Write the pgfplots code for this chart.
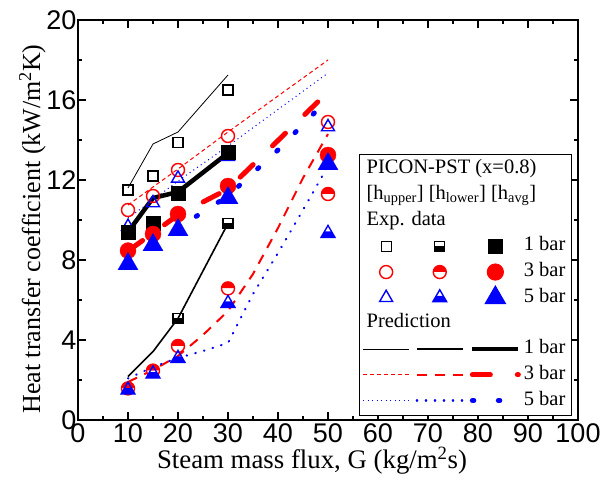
\documentclass[border=0pt]{standalone}
\usepackage{fontspec}
\setmainfont{Liberation Serif}
\newfontfamily\arialfont{Liberation Sans}
\usepackage{pgfplots}
\pgfplotsset{compat=1.18}
\usetikzlibrary{plotmarks}

% triangle with its lower part filled
\pgfdeclareplotmark{halftriangle*}{%
  \pgfpathmoveto{\pgfqpoint{-0.866\pgfplotmarksize}{-0.5\pgfplotmarksize}}%
  \pgfpathlineto{\pgfqpoint{0.866\pgfplotmarksize}{-0.5\pgfplotmarksize}}%
  \pgfpathlineto{\pgfqpoint{0.433\pgfplotmarksize}{0.25\pgfplotmarksize}}%
  \pgfpathlineto{\pgfqpoint{-0.433\pgfplotmarksize}{0.25\pgfplotmarksize}}%
  \pgfpathclose
  \pgfusepathqfill
  \pgfpathmoveto{\pgfqpoint{0pt}{\pgfplotmarksize}}%
  \pgfpathlineto{\pgfqpoint{-0.866\pgfplotmarksize}{-0.5\pgfplotmarksize}}%
  \pgfpathlineto{\pgfqpoint{0.866\pgfplotmarksize}{-0.5\pgfplotmarksize}}%
  \pgfpathclose
  \pgfusepathqstroke
}
% square with its lower half filled
\pgfdeclareplotmark{hsq}{%
  \pgfpathrectangle{\pgfqpoint{-\pgfplotmarksize}{-\pgfplotmarksize}}{\pgfqpoint{2\pgfplotmarksize}{1.1\pgfplotmarksize}}%
  \pgfusepathqfill
  \pgfpathrectangle{\pgfqpoint{-\pgfplotmarksize}{-\pgfplotmarksize}}{\pgfqpoint{2\pgfplotmarksize}{2\pgfplotmarksize}}%
  \pgfusepathqstroke
}

\newcommand\hdr[1]{\makebox[0pt][l]{\hspace*{-46pt}#1}}

\pgfplotsset{
  mk/.style={legend image code/.code={\draw[mark repeat=2,mark phase=2,##1] plot coordinates {(0pt,0pt) (23pt,0pt) (46pt,0pt)};}},
  ln/.style={legend image code/.code={\draw[##1] (0pt,0pt) -- (46pt,0pt);}},
  % predictions
  bU/.style={black, line width=0.8pt},
  bL/.style={black, line width=1.6pt},
  bA/.style={black, line width=4.5pt},
  rU/.style={red, line width=1pt, dash pattern=on 4pt off 3pt},
  rL/.style={red, line width=2pt, dash pattern=on 10pt off 8pt},
  rA/.style={red, line width=5pt, line cap=round, dash pattern=on 18pt off 27pt},
  uU/.style={blue, line width=1pt, dash pattern=on 1pt off 3.5pt},
  uL/.style={blue, line width=2.2pt, line cap=round, dash pattern=on 0.5pt off 8.5pt},
  uA/.style={blue, line width=5pt, line cap=round, dash pattern=on 1.5pt off 24.5pt},
  % experiments
  mbU/.style={only marks, black, mark=square, mark size=5pt, line width=1.3pt},
  mbL/.style={only marks, black, mark=hsq, mark size=5pt, line width=1.3pt},
  mbA/.style={only marks, black, mark=square*, mark size=7pt},
  mrU/.style={only marks, red, mark=o, mark size=6.5pt, line width=1.4pt},
  mrL/.style={only marks, red, mark=halfcircle*, mark size=6.5pt, line width=1.4pt},
  mrA/.style={only marks, red, mark=*, mark size=8pt},
  muU/.style={only marks, blue, mark=triangle, mark size=7.5pt, line width=1.4pt},
  muL/.style={only marks, blue, mark=halftriangle*, mark size=8pt, line width=1.4pt},
  muA/.style={only marks, blue, mark=triangle*, mark size=11.5pt},
}

\begin{document}
\begin{tikzpicture}
\begin{axis}[
    width=500pt, height=400pt, scale only axis,
    xmin=0, xmax=100, ymin=0, ymax=20,
    xtick={0,10,...,100}, ytick={0,4,...,20},
    minor x tick num=1, minor y tick num=1,
    tick align=inside,
    major tick length=8pt, minor tick length=4pt,
    every tick/.style={black, line width=1.2pt},
    axis line style={line width=1.3pt},
    /pgf/number format/assume math mode=true,
    tick label style={font=\arialfont\fontsize{27}{27}\selectfont},
    yticklabel style={xshift=2pt},
    label style={font=\fontsize{26}{28}\selectfont},
    xlabel={Steam mass flux, G (kg/m\textsuperscript{2}s)},
    xlabel style={font=\fontsize{26.8}{28}\selectfont, xshift=-16pt, yshift=2pt},
    ylabel={Heat transfer coefficient (kW/m\textsuperscript{2}K)},
    ylabel style={xshift=-9pt, yshift=-6pt},
    legend columns=3,
    legend cell align=left,
    legend style={at={(axis description cs:1,0)}, anchor=south east,
      xshift=-6pt, yshift=4pt, draw=black, line width=1.2pt,
      font=\fontsize{20.5}{22}\selectfont, inner xsep=3pt, inner ysep=2pt,
      nodes={inner xsep=3pt, inner ysep=3.35pt, text height=14pt, text depth=5pt},
      column sep=0pt, row sep=0pt},
  ]

% ---- legend ----
\addlegendimage{empty legend}\addlegendentry{\hdr{PICON-PST (x=0.8)}}
\addlegendimage{empty legend}\addlegendentry{}
\addlegendimage{empty legend}\addlegendentry{}
\addlegendimage{empty legend}\addlegendentry{\hdr{[h\textsubscript{upper}] [h\textsubscript{lower}] [h\textsubscript{avg}]}}
\addlegendimage{empty legend}\addlegendentry{}
\addlegendimage{empty legend}\addlegendentry{}
\addlegendimage{empty legend}\addlegendentry{\hdr{Exp. data}}
\addlegendimage{empty legend}\addlegendentry{}
\addlegendimage{empty legend}\addlegendentry{}
\addlegendimage{mbU,mk}\addlegendentry{}
\addlegendimage{mbL,mk}\addlegendentry{}
\addlegendimage{mbA,mk}\addlegendentry{1 bar}
\addlegendimage{mrU,mk}\addlegendentry{}
\addlegendimage{mrL,mk}\addlegendentry{}
\addlegendimage{mrA,mk}\addlegendentry{3 bar}
\addlegendimage{muU,mk}\addlegendentry{}
\addlegendimage{muL,mk}\addlegendentry{}
\addlegendimage{muA,mk}\addlegendentry{5 bar}
\addlegendimage{empty legend}\addlegendentry{\hdr{Prediction}}
\addlegendimage{empty legend}\addlegendentry{}
\addlegendimage{empty legend}\addlegendentry{}
\addlegendimage{bU,ln}\addlegendentry{}
\addlegendimage{bL,ln}\addlegendentry{}
\addlegendimage{bA,ln}\addlegendentry{1 bar}
\addlegendimage{rU,ln}\addlegendentry{}
\addlegendimage{rL,ln}\addlegendentry{}
\addlegendimage{rA,ln}\addlegendentry{3 bar}
\addlegendimage{uU,ln}\addlegendentry{}
\addlegendimage{uL,ln}\addlegendentry{}
\addlegendimage{uA,ln}\addlegendentry{5 bar}

% ---- h_upper ----
\addplot[bU, forget plot] coordinates {(10,11.6) (15,13.8) (20,14.4) (30,17.25)};
\addplot[rU, forget plot] coordinates {(10,10.75) (15,11.65) (20,12.55) (30,14.4) (50,18.0)};
\addplot[uU, forget plot] coordinates {(10,10.1) (15,11.0) (20,11.95) (30,13.7) (50,17.35)};
\addplot[mbU, forget plot] coordinates {(10,11.5) (15,12.2) (20,13.87) (30,16.5)};
\addplot[mrU, forget plot] coordinates {(10,10.5) (15,11.2) (20,12.5) (30,14.2) (50,14.9)};
\addplot[muU, forget plot] coordinates {(10,9.67) (15,10.85) (20,12.08) (30,13.17) (50,14.65)};

% ---- h_lower ----
\addplot[bL, forget plot] coordinates {(10,2.17) (15,3.42) (20,5.08) (30,9.83)};
\addplot[rL, forget plot] coordinates {(10,1.9) (15,2.5) (20,3.2) (25,4.25) (30,5.45) (35,7.3) (40,9.6) (45,12.1) (50,14.3)};
\addplot[uL, forget plot] coordinates {(10,2.08) (15,2.65) (20,3.1) (25,3.45) (30,3.85) (35,6.3) (40,8.35) (45,10.5) (50,12.7)};
\addplot[mbL, forget plot] coordinates {(20,5.08) (30,9.83)};
\addplot[mrL, forget plot] coordinates {(10,1.58) (15,2.47) (20,3.7) (30,6.58) (50,11.3)};
\addplot[muL, forget plot] coordinates {(10,1.5) (15,2.3) (20,3.08) (30,5.83) (50,9.33)};

% ---- h_avg ----
\addplot[bA, forget plot] coordinates {(10,9.4) (15,11.1) (20,11.4) (30,13.35)};
\addplot[mbA, forget plot] coordinates {(10,9.37) (15,9.83) (20,11.33) (30,13.37)};
\addplot[rA, forget plot] coordinates {(10,8.45) (15,9.35) (20,10.25) (30,11.55) (50,16.4)};
\addplot[mrA, forget plot] coordinates {(10,8.47) (15,9.3) (20,10.3) (30,11.7) (50,13.25)};
\addplot[uA, forget plot] coordinates {(10,8.3) (15,8.95) (20,9.6) (30,11.2) (40,13.5) (50,16.05)};
\addplot[muA, forget plot] coordinates {(10,7.8) (15,8.75) (20,9.5) (30,11.1) (50,12.8)};
\end{axis}
\pgfresetboundingbox
\path ([shift={(-78pt,-63pt)}]current axis.south west) rectangle ([shift={(25pt,20pt)}]current axis.north east);
\end{tikzpicture}
\end{document}
